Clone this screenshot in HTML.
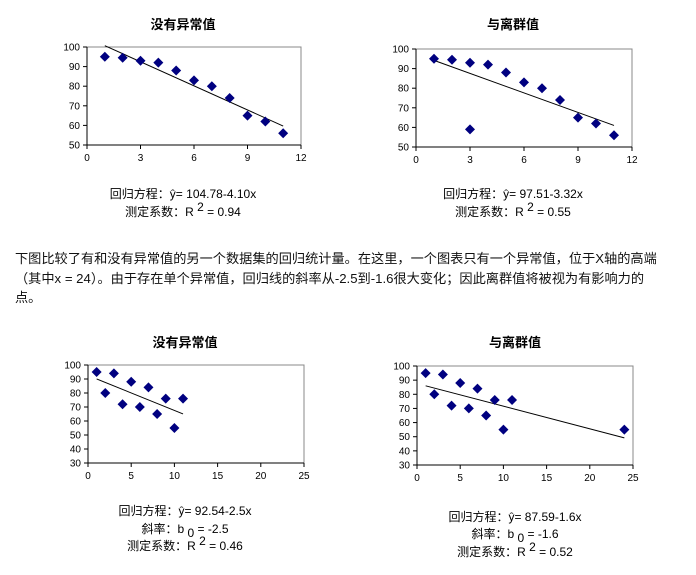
<!DOCTYPE html>
<html><head><meta charset="utf-8"><style>
body{margin:0;background:#fff;width:696px;height:575px;overflow:hidden;font-family:"Liberation Sans","Noto Sans CJK SC",sans-serif;}
svg{position:absolute;left:0;top:0}
#para{position:absolute;left:15px;top:249px;font-size:13.2px;line-height:19.5px;color:#111;white-space:nowrap}
</style></head><body>
<svg id="s" width="696" height="575"></svg>
<div id="para">下图比较了有和没有异常值的另一个数据集的回归统计量。在这里，一个图表只有一个异常值，位于X轴的高端<br>（其中x = 24）。由于存在单个异常值，回归线的斜率从-2.5到-1.6很大变化；因此离群值将被视为有影响力的<br>点。</div>
<script>
const xs1=[1,2,3,4,5,6,7,8,9,10,11];
const ys1=[95,94.5,93,92,88,83,80,74,65,62,56];
const xs2=[1,2,3,3,4,5,6,7,8,9,10,11];
const ys2=[95,94.5,93,59,92,88,83,80,74,65,62,56];
const xs3=[1,2,3,4,5,6,7,8,9,10,11];
const ys3=[95,80,94,72,88,70,84,65,76,55,76];
const xs4=[1,2,3,4,5,6,7,8,9,10,11,24];
const ys4=[95,80,94,72,88,70,84,65,76,55,76,55];
const fits=[[104.78,-4.10],[97.51,-3.32],[92.54,-2.5],[87.59,-1.6]];
const xticks12=[0,3,6,9,12], yticks100=[50,60,70,80,90,100];
const xticks25=[0,5,10,15,20,25], yticks30=[30,40,50,60,70,80,90,100];
const charts=[
 {title:"没有异常值",xs:xs1,ys:ys1,fit:fits[0],xt:xticks12,yt:yticks100,L:87,R:301,T:47,B:145,cx:183,ty:29,eq:["回归方程：ŷ= 104.78-4.10x",null,"0.94"],ey:[198,216],name:"chart-no-outlier-1"},
 {title:"与离群值",xs:xs2,ys:ys2,fit:fits[1],xt:xticks12,yt:yticks100,L:416,R:632,T:49,B:147,cx:513,ty:29,eq:["回归方程：ŷ= 97.51-3.32x",null,"0.55"],ey:[198,216],name:"chart-with-outlier-1"},
 {title:"没有异常值",xs:xs3,ys:ys3,fit:fits[2],xt:xticks25,yt:yticks30,L:88,R:304,T:365,B:463,cx:185,ty:347,eq:["回归方程：ŷ= 92.54-2.5x","-2.5","0.46"],ey:[515,533,550],name:"chart-no-outlier-2"},
 {title:"与离群值",xs:xs4,ys:ys4,fit:fits[3],xt:xticks25,yt:yticks30,L:417,R:633,T:366,B:465,cx:515,ty:347,eq:["回归方程：ŷ= 87.59-1.6x","-1.6","0.52"],ey:[521,538,556],name:"chart-with-outlier-2"}
];
const svg=document.getElementById('s');const NS="http://www.w3.org/2000/svg";
function mk(t,a,p){const e=document.createElementNS(NS,t);for(const k in a)e.setAttribute(k,a[k]);p.appendChild(e);return e;}
charts.forEach(c=>{
 const g=mk('g',{},svg);
 
 
 const x0=c.xt[0],x1=c.xt[c.xt.length-1],y0=c.yt[0],y1=c.yt[c.yt.length-1];
 const sx=v=>c.L+(v-x0)/(x1-x0)*(c.R-c.L);
 const sy=v=>c.B-(v-y0)/(y1-y0)*(c.B-c.T);
 const t=mk('text',{x:c.cx,y:c.ty,'text-anchor':'middle','font-size':13,'font-weight':'bold',fill:'#000'},g);t.textContent=c.title;
 
 
 const fr=mk('rect',{x:c.L,y:c.T,width:c.R-c.L,height:c.B-c.T,fill:'none',stroke:'#888','stroke-width':1},g);
 
 
 mk('line',{x1:c.L,y1:c.T,x2:c.L,y2:c.B,stroke:'#000'},g);
 mk('line',{x1:c.L,y1:c.B,x2:c.R,y2:c.B,stroke:'#000'},g);
 c.yt.forEach(v=>{const y=sy(v);mk('line',{x1:c.L-4,y1:y,x2:c.L,y2:y,stroke:'#000'},g);
  const l=mk('text',{x:c.L-7,y:y+3.5,'text-anchor':'end','font-size':10,fill:'#000'},g);l.textContent=v;
  
  });
 c.xt.forEach(v=>{const x=sx(v);mk('line',{x1:x,y1:c.B,x2:x,y2:c.B+4,stroke:'#000'},g);
  const l=mk('text',{x:x,y:c.B+16,'text-anchor':'middle','font-size':10,fill:'#000'},g);l.textContent=v;
  
  });
 const xmin=Math.min(...c.xs),xmax=Math.max(...c.xs);
 const ln=mk('line',{x1:sx(xmin),y1:sy(c.fit[0]+c.fit[1]*xmin),x2:sx(xmax),y2:sy(c.fit[0]+c.fit[1]*xmax),stroke:'#000','stroke-width':1},g);
 
 
 c.xs.forEach((xv,i)=>{const x=sx(xv),y=sy(c.ys[i]),r=5;
  const p=mk('polygon',{points:`${x},${y-r} ${x+r},${y} ${x},${y+r} ${x-r},${y}`,fill:'#000080'},g);
  
  });
 let k=0;
 const e1=mk('text',{x:c.cx,y:c.ey[k++],'text-anchor':'middle','font-size':12,fill:'#000'},g);e1.textContent=c.eq[0];
 
 
 if(c.eq[1]){const e2=mk('text',{x:c.cx,y:c.ey[k++],'text-anchor':'middle','font-size':12,fill:'#000'},g);
  e2.innerHTML='斜率：b <tspan dy="4">0</tspan><tspan dy="-4"> = '+c.eq[1]+'</tspan>';
  
  }
 const e3=mk('text',{x:c.cx,y:c.ey[k++],'text-anchor':'middle','font-size':12,fill:'#000'},g);
 e3.innerHTML='测定系数：R <tspan dy="-5">2</tspan><tspan dy="5"> = '+c.eq[2]+'</tspan>';
 
 
});
</script>
</body></html>
